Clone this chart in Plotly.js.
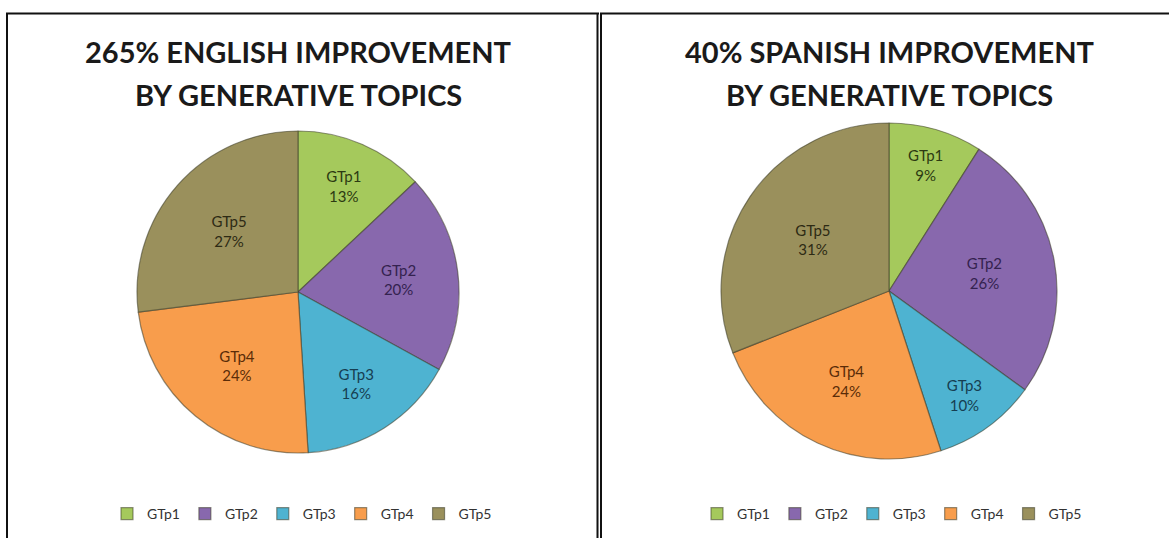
<!DOCTYPE html>
<html>
<head>
<meta charset="utf-8">
<script src="https://cdn.plot.ly/plotly-3.0.1.min.js"></script>
<style>
  html, body { margin: 0; padding: 0; background: #ffffff; }
  #wrap { position: relative; width: 1169px; height: 538px; overflow: hidden; }
  #left { position: absolute; left: 0; top: 0; width: 599px; height: 538px; }
  #right { position: absolute; left: 599px; top: 0; width: 570px; height: 538px; }
</style>
</head>
<body>
<div id="wrap"><div id="left"></div><div id="right"></div></div>
<script>
const categories = ["GTp1", "GTp2", "GTp3", "GTp4", "GTp5"];
const englishValues = [13, 20, 16, 24, 27];
const spanishValues = [9, 26, 10, 24, 31];
const englishTitle = ["265% ENGLISH IMPROVEMENT", "BY GENERATIVE TOPICS"];
const spanishTitle = ["40% SPANISH IMPROVEMENT", "BY GENERATIVE TOPICS"];

const sliceColors = ["#a5c95c", "#8868ad", "#4eb3d1", "#f89d4c", "#9a905c"];
const textColors = ["#2c3a12", "#34224f", "#163e52", "#5a2c08", "#2d2a14"];
const FONT = "Lato, 'Open Sans', sans-serif";
const H = 538;

function makeChart(div, W, values, titleLines, pie, legendX, borders) {
  const trace = {
    type: "pie",
    labels: categories,
    values: values,
    sort: false,
    direction: "clockwise",
    rotation: 0,
    textposition: "inside",
    insidetextorientation: "horizontal",
    texttemplate: "%{label}<br>%{percent:.0%}",
    insidetextfont: { family: FONT, size: 15, color: textColors },
    marker: { colors: sliceColors, line: { color: "rgba(60,60,40,0.55)", width: 1.2 } },
    domain: {
      x: [(pie.cx - pie.r) / W, (pie.cx + pie.r) / W],
      y: [1 - (pie.cy + pie.r) / H, 1 - (pie.cy - pie.r) / H]
    },
    hoverinfo: "skip",
    showlegend: true
  };
  const shapes = borders.map(function (b) {
    return { type: "line", xref: "paper", yref: "paper",
      x0: b[0] / W, x1: b[2] / W, y0: 1 - b[1] / H, y1: 1 - b[3] / H,
      line: { color: "#111111", width: 2 } };
  });
  const annotations = titleLines.map(function (t, i) {
    return { text: t, xref: "paper", yref: "paper", x: pie.cx / W, y: 1 - (52 + 43 * i) / H,
      xanchor: "center", yanchor: "middle", showarrow: false,
      font: { family: FONT, size: 29, color: "#1a1a1a", weight: "bold" } };
  });
  const layout = {
    width: W, height: H,
    margin: { l: 0, r: 0, t: 0, b: 0 },
    paper_bgcolor: "rgba(0,0,0,0)",
    plot_bgcolor: "rgba(0,0,0,0)",
    font: { family: FONT },
    legend: {
      orientation: "h", xanchor: "center", yanchor: "middle",
      x: legendX / W, y: 1 - 514 / H,
      font: { family: FONT, size: 14, color: "#333333" },
      itemwidth: 30, traceorder: "normal", bgcolor: "rgba(0,0,0,0)"
    },
    annotations: annotations,
    shapes: shapes
  };
  Plotly.newPlot(div, [trace], layout, { displayModeBar: false, staticPlot: true });
}

makeChart("left", 599, englishValues, englishTitle, { cx: 298, cy: 292, r: 161 }, 302,
  [[7, 13, 7, 538], [6, 13.5, 599, 13.5], [597.5, 13, 597.5, 538]]);
makeChart("right", 570, spanishValues, spanishTitle, { cx: 290, cy: 291, r: 168 }, 293,
  [[2, 13, 2, 538], [1, 13.5, 570, 13.5]]);
</script>
</body>
</html>
